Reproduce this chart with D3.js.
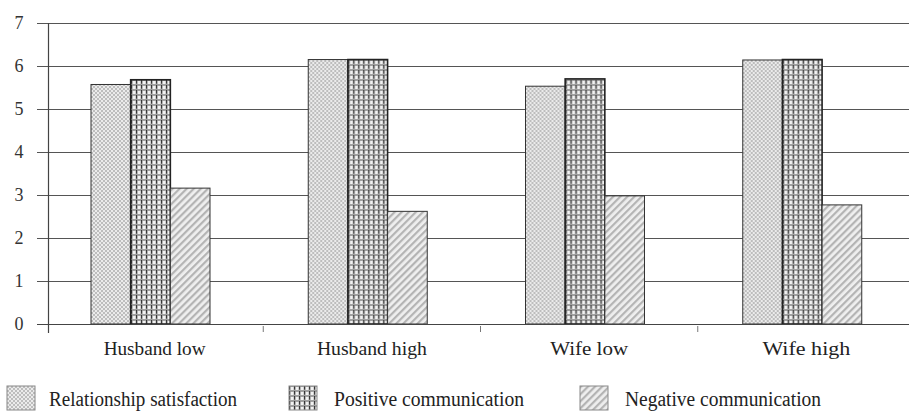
<!DOCTYPE html>
<html>
<head>
<meta charset="utf-8">
<script src="https://cdn.jsdelivr.net/npm/d3@7/dist/d3.min.js"></script>
<style>
  html, body { margin: 0; padding: 0; background: #fff; }
  svg { display: block; }
</style>
</head>
<body>
<svg id="chart" width="909" height="413"></svg>
<script>
const categories = ["Husband low", "Husband high", "Wife low", "Wife high"];
const seriesNames = ["Relationship satisfaction", "Positive communication", "Negative communication"];
const relationshipSatisfaction = [5.57, 6.15, 5.53, 6.14];
const positiveCommunication = [5.68, 6.15, 5.70, 6.15];
const negativeCommunication = [3.16, 2.62, 2.98, 2.77];
const yTickValues = [0, 1, 2, 3, 4, 5, 6, 7];

const seriesValues = [relationshipSatisfaction, positiveCommunication, negativeCommunication];
const patternIds = ["pat-rs", "pat-pc", "pat-nc"];
const FONT = '"Liberation Serif", "DejaVu Serif", serif';

const svg = d3.select("#chart");
const defs = svg.append("defs");

// Relationship satisfaction: fine light checker
const p1 = defs.append("pattern").attr("id", "pat-rs").attr("patternUnits", "userSpaceOnUse")
  .attr("width", 4).attr("height", 4);
p1.append("rect").attr("width", 4).attr("height", 4).attr("fill", "#ebebeb");
p1.append("rect").attr("x", 0).attr("y", 0).attr("width", 2).attr("height", 2).attr("fill", "#bdbdbd");
p1.append("rect").attr("x", 2).attr("y", 2).attr("width", 2).attr("height", 2).attr("fill", "#bdbdbd");

// Positive communication: vertical dashed lines with light dots
const p2 = defs.append("pattern").attr("id", "pat-pc").attr("patternUnits", "userSpaceOnUse")
  .attr("width", 5).attr("height", 5);
p2.append("rect").attr("width", 5).attr("height", 5).attr("fill", "#a0a0a0");
p2.append("rect").attr("x", 1.6).attr("y", 1).attr("width", 3).attr("height", 3).attr("fill", "#f2f2f2");
p2.append("rect").attr("x", 0).attr("y", 0).attr("width", 1.1).attr("height", 3.6).attr("fill", "#383838");

// Negative communication: diagonal hatch
const p3 = defs.append("pattern").attr("id", "pat-nc").attr("patternUnits", "userSpaceOnUse")
  .attr("width", 5).attr("height", 5).attr("patternTransform", "rotate(45)");
p3.append("rect").attr("width", 5).attr("height", 5).attr("fill", "#efefef");
p3.append("rect").attr("x", 0).attr("y", 0).attr("width", 2.2).attr("height", 5).attr("fill", "#b4b4b4");

const x0 = d3.scaleBand().domain(categories).range([46, 915]).paddingInner(0).paddingOuter(0);
const groupOffset = 45;
const groupWidth = 119;
const x1 = d3.scaleBand().domain(d3.range(seriesNames.length)).range([0, groupWidth]).padding(0);
const y = d3.scaleLinear().domain([0, 7]).range([324, 23]);

// gridlines
svg.append("g").selectAll("line").data(yTickValues).join("line")
  .attr("x1", 37).attr("x2", 909)
  .attr("y1", d => Math.round(y(d)) + 0.5).attr("y2", d => Math.round(y(d)) + 0.5)
  .attr("stroke", "#555").attr("stroke-width", 1.2);

// y tick labels
svg.append("g").selectAll("text").data(yTickValues).join("text")
  .attr("x", 19).attr("y", d => y(d) + 5.5)
  .attr("text-anchor", "middle")
  .attr("font-size", 18)
  .attr("fill", "#333")
  .style("font-family", FONT)
  .text(d => d);

// y axis line
svg.append("line").attr("x1", 48.5).attr("x2", 48.5).attr("y1", 23).attr("y2", 333)
  .attr("stroke", "#444").attr("stroke-width", 1.2);

// bars
const groups = svg.append("g").selectAll("g").data(categories).join("g")
  .attr("transform", d => `translate(${x0(d) + groupOffset},0)`);

groups.selectAll("rect").data((d, i) => seriesValues.map((s, j) => ({ j, v: s[i] }))).join("rect")
  .attr("x", d => x1(d.j))
  .attr("y", d => y(d.v))
  .attr("width", x1.bandwidth())
  .attr("height", d => y(0) - y(d.v))
  .attr("fill", d => `url(#${patternIds[d.j]})`)
  .attr("stroke", d => d.j === 1 ? "#222" : "#333")
  .attr("stroke-width", d => d.j === 1 ? 1.6 : 1);

// x axis
svg.append("line").attr("x1", 37).attr("x2", 909).attr("y1", 324.5).attr("y2", 324.5)
  .attr("stroke", "#444").attr("stroke-width", 1.2);

// ticks between categories
svg.append("g").selectAll("line").data(categories.slice(1)).join("line")
  .attr("x1", d => x0(d)).attr("x2", d => x0(d))
  .attr("y1", 326).attr("y2", 332)
  .attr("stroke", "#777").attr("stroke-width", 1);

// category labels
const labelWidths = [102, 110, 78, 88];
svg.append("g").selectAll("text").data(categories).join("text")
  .attr("x", d => x0(d) + x0.bandwidth() / 2)
  .attr("y", 355)
  .attr("text-anchor", "middle")
  .attr("font-size", 19)
  .attr("fill", "#222")
  .style("font-family", FONT)
  .attr("textLength", (d, i) => labelWidths[i])
  .attr("lengthAdjust", "spacingAndGlyphs")
  .text(d => d);

// legend
const legendX = [7, 289, 580];
const legendTextW = [188, 190, 196];
const legend = svg.append("g").selectAll("g").data(seriesNames).join("g")
  .attr("transform", (d, i) => `translate(${legendX[i]},386)`);
legend.append("rect")
  .attr("x", 0).attr("y", 0).attr("width", 28).attr("height", 24)
  .attr("fill", (d, i) => `url(#${patternIds[i]})`)
  .attr("stroke", "#888").attr("stroke-width", 1);
legend.append("text")
  .attr("x", (d, i) => i === 0 ? 42 : 45)
  .attr("y", 20)
  .attr("font-size", 20)
  .attr("fill", "#222")
  .style("font-family", FONT)
  .attr("textLength", (d, i) => legendTextW[i])
  .attr("lengthAdjust", "spacingAndGlyphs")
  .text(d => d);
</script>
</body>
</html>
